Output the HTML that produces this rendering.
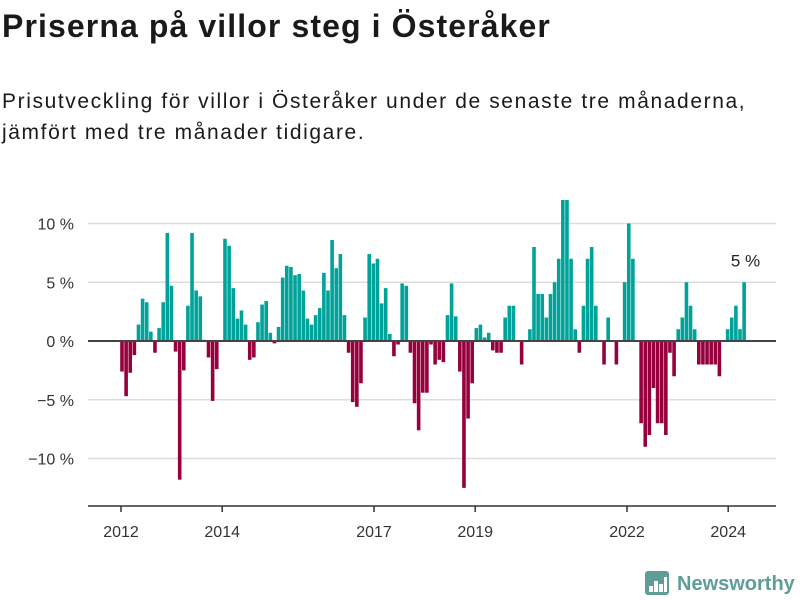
<!DOCTYPE html>
<html><head><meta charset="utf-8"><style>
body{margin:0;background:#fff;font-family:"Liberation Sans","DejaVu Sans",sans-serif;color:#1a1a1a}
#wrap{position:relative;width:800px;height:600px;overflow:hidden}
h1{position:absolute;left:2px;top:8px;margin:0;font-size:32px;font-weight:bold;letter-spacing:1.1px}
.sub{position:absolute;left:2px;top:86px;margin:0;font-size:21px;line-height:31px;letter-spacing:1.6px}
svg{position:absolute;left:0;top:0}
</style></head><body>
<div id="wrap">
<h1>Priserna på villor steg i Österåker</h1>
<p class="sub">Prisutveckling för villor i Österåker under de senaste tre månaderna,<br>jämfört med tre månader tidigare.</p>
<svg id="chart" width="800" height="600"></svg>
</div>
<script>
const values=[-2.6,-4.7,-2.7,-1.2,1.4,3.6,3.3,0.8,-1.0,1.1,3.3,9.2,4.7,-0.9,-11.8,-2.5,3.0,9.2,4.3,3.8,0.1,-1.4,-5.1,-2.4,0,8.7,8.1,4.5,1.9,2.6,1.4,-1.6,-1.4,1.6,3.1,3.4,0.7,-0.2,1.2,
5.4,6.4,6.3,5.6,5.7,4.3,1.9,1.4,2.2,2.8,5.8,4.3,8.6,6.2,7.4,2.2,-1.0,-5.2,-5.6,-3.6,2.0,7.4,6.6,7.0,3.2,4.5,0.6,-1.3,-0.3,4.9,4.7,-1.0,-5.3,-7.6,-4.4,-4.4,-0.3,-2.0,-1.6,
-1.8,2.2,4.9,2.1,-2.6,-12.5,-6.6,-3.6,1.1,1.4,0.3,0.7,-0.8,-1.0,-1.0,2.0,3.0,3.0,0,-2.0,0,1.0,8.0,4.0,4.0,2.0,4.0,5.0,7.0,12.0,12.0,7.0,1.0,-1.0,3.0,7.0,8.0,3.0,
0,-2.0,2.0,0,-2.0,0,5.0,10.0,7.0,0,-7.0,-9.0,-8.0,-4.0,-7.0,-7.0,-8.0,-1.0,-3.0,1.0,2.0,5.0,3.0,1.0,-2.0,-2.0,-2.0,-2.0,-2.0,-3.0,0,1.0,2.0,3.0,1.0,5.0];
const yTicks=[10,5,0,-5,-10];
const yTickLabels=["10 %","5 %","0 %","−5 %","−10 %"];
const xTickYears=[2012,2014,2017,2019,2022,2024];
const lastLabel="5 %";

const NS="http://www.w3.org/2000/svg";
const svg=document.getElementById('chart');
const y=v=>341-v*11.75;
const xb=i=>122+i*4.12;
const xy=yr=>121+(yr-2012)*50.6;
function mk(t,a){const e=document.createElementNS(NS,t);for(const k in a)e.setAttribute(k,a[k]);svg.appendChild(e);return e;}
yTicks.forEach((t,i)=>{
 if(t!==0){const g=mk('line',{x1:88,x2:776,y1:y(t),y2:y(t),stroke:'#dddddd','stroke-width':1.5});
 
 }
 const l=mk('text',{x:74,y:y(t)+6,'text-anchor':'end','font-size':16,fill:'#333'});
 l.textContent=yTickLabels[i];
 
 
});
values.forEach((v,i)=>{
 const r=mk('rect',{x:xb(i)-1.8,width:3.6,y:Math.min(y(v),y(0)),height:Math.abs(y(v)-y(0)),fill:v>=0?'#00a39a':'#96003c'});
 
 
});
const z=mk('line',{x1:88,x2:776,y1:y(0),y2:y(0),stroke:'#444','stroke-width':2});


const ax=mk('line',{x1:88,x2:776,y1:506,y2:506,stroke:'#333','stroke-width':1.5});


xTickYears.forEach(yr=>{
 const t=mk('line',{x1:xy(yr),x2:xy(yr),y1:506,y2:512,stroke:'#333','stroke-width':1.5});
 
 
 const l=mk('text',{x:xy(yr),y:537,'text-anchor':'middle','font-size':16,fill:'#333'});
 l.textContent=yr;
 
 
});
const li=values.length-1;
const ll=mk('text',{x:xb(li)+16,y:y(values[li])-16,'text-anchor':'end','font-size':17,fill:'#222'});
ll.textContent=lastLabel;


// logo
const g=mk('g',{});


const b=document.createElementNS(NS,'rect');
[['x',645],['y',571],['width',24],['height',24],['rx',3],['fill','#5f9e97']].forEach(a=>b.setAttribute(a[0],a[1]));g.appendChild(b);
[[649,586,4,6],[654,581,4,11],[659,584,4,8],[664,577,3,15]].forEach(r=>{const e=document.createElementNS(NS,'rect');e.setAttribute('x',r[0]);e.setAttribute('y',r[1]);e.setAttribute('width',r[2]);e.setAttribute('height',r[3]);e.setAttribute('fill','#fff');g.appendChild(e);});
const lt=document.createElementNS(NS,'text');
lt.setAttribute('x',677);lt.setAttribute('y',590);lt.setAttribute('font-size',20);lt.setAttribute('font-weight','bold');lt.setAttribute('fill','#5f9e97');
lt.textContent='Newsworthy';g.appendChild(lt);
</script>
</body></html>
